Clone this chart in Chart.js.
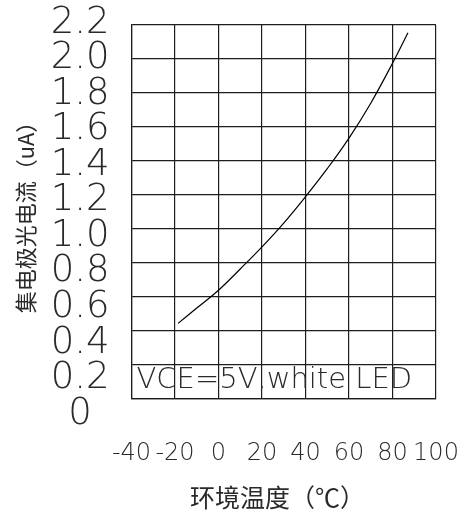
<!DOCTYPE html>
<html>
<head>
<meta charset="utf-8">
<script src="https://cdn.jsdelivr.net/npm/chart.js@4/dist/chart.umd.min.js"></script>
<style>
  html, body { margin: 0; padding: 0; background: #fff; }
  #wrap { width: 466px; height: 512px; position: relative; }
</style>
</head>
<body>
<div id="wrap"><canvas id="c"></canvas></div>
<script>
// ---- data ----
const temperatures = [-18.6, -10, 0, 10, 20, 30, 40, 50, 60, 70, 80, 87.1];
const currents     = [0.445, 0.535, 0.64, 0.765, 0.895, 1.035, 1.19, 1.355, 1.535, 1.74, 1.975, 2.155];
const xTickValues  = [-40, -20, 0, 20, 40, 60, 80, 100];
const xTickLabels  = ['-40', '-20', '0', '20', '40', '60', '80', '100'];
const yTickValues  = [0, 0.2, 0.4, 0.6, 0.8, 1.0, 1.2, 1.4, 1.6, 1.8, 2.0, 2.2];
const yTickLabels  = ['0', '0.2', '0.4', '0.6', '0.8', '1.0', '1.2', '1.4', '1.6', '1.8', '2.0', '2.2'];
const xTitle = '环境温度（℃）\u3000';
const yTitle = '集电极光电流（uA）';
const noteText = 'VCE=5V,white LED';

const points = temperatures.map((t, i) => ({ x: t, y: currents[i] }));
const gridColor = '#1e1e1e';
const textColor = '#2a2a2a';

const notePlugin = {
  id: 'note',
  afterDraw(chart) {
    const { ctx, chartArea } = chart;
    ctx.save();
    ctx.font = '200 29px "DejaVu Sans"';
    ctx.fillStyle = textColor;
    ctx.textAlign = 'left';
    ctx.textBaseline = 'alphabetic';
    ctx.fillText(noteText, chartArea.left + 5, chartArea.bottom - 11);
    ctx.restore();
  }
};

new Chart(document.getElementById('c'), {
  type: 'line',
  data: {
    datasets: [{
      data: points,
      xAxisID: 'x',
      yAxisID: 'y',
      borderColor: '#000',
      borderWidth: 1.2,
      pointRadius: 0,
      fill: false,
      tension: 0.4
    }]
  },
  options: {
    responsive: true,
    maintainAspectRatio: false,
    animation: false,
    events: [],
    layout: { padding: { top: 25, right: 30, bottom: 0, left: 30 } },
    plugins: { legend: { display: false }, tooltip: { enabled: false } },
    scales: {
      x: {
        type: 'linear',
        position: 'bottom',
        min: -40,
        max: 100,
        afterBuildTicks: (s) => { s.ticks = xTickValues.map(v => ({ value: v })); },
        ticks: {
          autoSkip: false,
          maxRotation: 0,
          padding: 0,
          color: textColor,
          font: { family: '"DejaVu Sans"', size: 24, weight: '200', lineHeight: '110px' },
          callback: (v, i) => xTickLabels[i]
        },
        grid: { color: gridColor, lineWidth: 1.2, drawTicks: false },
        border: { display: true, color: gridColor, width: 1.2 },
        title: {
          display: true,
          text: xTitle,
          color: textColor,
          font: { family: '"Noto Sans CJK SC"', size: 25, weight: '400' },
          padding: { top: -27, bottom: 0 }
        }
      },
      y: {
        type: 'linear',
        position: 'left',
        weight: 0,
        min: 0,
        max: 2.2,
        afterBuildTicks: (s) => { s.ticks = yTickValues.map(v => ({ value: v })); },
        ticks: { display: false },
        grid: { color: gridColor, lineWidth: 1.2, drawTicks: false },
        border: { display: true, color: gridColor, width: 1.2 }
      },
      yLab: {
        type: 'linear',
        position: 'left',
        weight: 1,
        min: 0.0844,
        max: 2.1887,
        afterBuildTicks: (s) => { s.ticks = yTickValues.map(v => ({ value: v })); },
        ticks: {
          autoSkip: false,
          crossAlign: 'center',
          padding: 22,
          color: textColor,
          font: { family: '"DejaVu Sans"', size: 37, weight: '200', lineHeight: 0.1 },
          callback: (v, i) => yTickLabels[i]
        },
        grid: { display: false, drawTicks: false },
        border: { display: false },
        title: {
          display: true,
          text: yTitle,
          color: textColor,
          font: { family: '"Noto Sans CJK SC"', size: 22, weight: '400' },
          padding: { top: -17.2, bottom: -9.2 }
        }
      }
    }
  },
  plugins: [notePlugin]
});
</script>
</body>
</html>
